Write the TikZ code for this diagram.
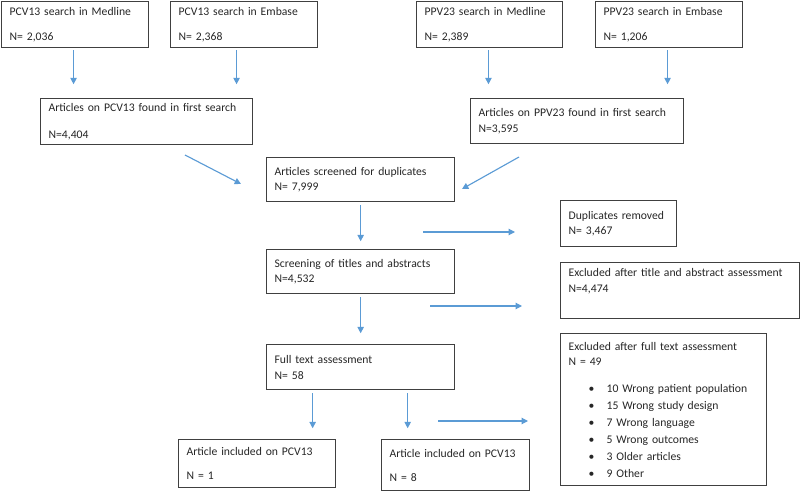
\documentclass[tikz,border=0pt]{standalone}
\usepackage{fontspec}
\setmainfont{Carlito}
\usetikzlibrary{arrows.meta}
\definecolor{arrblue}{RGB}{91,155,213}
\definecolor{edge}{RGB}{64,64,64}

\begin{document}
\begin{tikzpicture}[x=0.025cm,y=-0.025cm,font=\fontsize{8.3}{11.2}\selectfont,text=black!85,box/.style 2 args={draw=edge, line width=0.9pt, anchor=north west, align=left, minimum width=#1cm, minimum height=#2cm, text width=#1cm-0.4cm},arr/.style={draw=arrblue, line width=0.8pt, -{Triangle[length=4.5pt,width=4.5pt]}}]
\useasboundingbox (0,0) rectangle (800,491);
\node[box={3.675}{1.15}] (medA) at (1,1) {PCV13 search in Medline\\[6pt]N= 2,036};\node[box={3.675}{1.15}] (embA) at (170,1) {PCV13 search in Embase\\[6pt]N= 2,368};
\node[box={3.65}{1.15}] (medB) at (416,1) {PPV23 search in Medline\\[6pt]N= 2,389};\node[box={3.675}{1.15}] (embB) at (595,1) {PPV23 search in Embase\\[6pt]N= 1,206};
\node[box={5.3}{1.125}] (pcv) at (40,98) {Articles on PCV13 found in first search\\[8pt]N=4,404};\node[box={5.325}{1.125}] (ppv) at (470,98) {Articles on PPV23 found in first search\\N=3,595};
\node[box={4.7}{1.1}] (dup) at (266,157) {Articles screened for duplicates\\N= 7,999};\node[box={2.9}{1.15}] (dupout) at (560,200) {Duplicates removed\\N= 3,467};
\node[box={4.7}{1.1}] (screen) at (266,249) {Screening of titles and abstracts\\N=4,532};\node[box={5.975}{1.4}] (exclTA) at (560,262) {Excluded after title and abstract assessment\\N=4,474\\ \strut};
\node[box={4.7}{1.125}] (full) at (266,344) {Full text assessment\\N= 58};
\node[box={5.15}{3.8}] (exclFT) at (560,333) {Excluded after full text assessment\\N = 49\\[8pt]
\hspace*{0.5cm}\makebox[0.45cm][l]{\textbullet}10 Wrong patient population\\[0.8pt]
\hspace*{0.5cm}\makebox[0.45cm][l]{\textbullet}15 Wrong study design\\[0.8pt]
\hspace*{0.5cm}\makebox[0.45cm][l]{\textbullet}7 Wrong language\\[0.8pt]
\hspace*{0.5cm}\makebox[0.45cm][l]{\textbullet}5 Wrong outcomes\\[0.8pt]
\hspace*{0.5cm}\makebox[0.45cm][l]{\textbullet}3 Older articles\\[0.8pt]
\hspace*{0.5cm}\makebox[0.45cm][l]{\textbullet}9 Other};
\node[box={3.925}{1.2}] (incA) at (178,439) {Article included on PCV13\\[6pt]N = 1};\node[box={3.7}{1.275}] (incB) at (381,439) {Article included on PCV13\\[6pt]N = 8};
% free arrows between the boxes
\coordinate (pcvout) at (185,155);\coordinate (dupinL) at (241,184);
\coordinate (ppvout) at (519,157);\coordinate (dupinR) at (462,189);
\coordinate (dupfrom) at (423,232);\coordinate (dupto) at (515,232);
\coordinate (scrfrom) at (430,306);\coordinate (scrto) at (522,306);
\coordinate (fulfrom) at (438,421);\coordinate (fulto) at (528,421);
\draw[arr] ([xshift=-0.04cm,yshift=-0.05cm]medA.south) -- ++(0,34);
\draw[arr] ([xshift=-0.19cm,yshift=-0.05cm]embA.south) -- ++(0,34);
\draw[arr] ([xshift=-0.03cm,yshift=-0.05cm]medB.south) -- ++(0,34);
\draw[arr] ([xshift=-0.04cm,yshift=-0.05cm]embB.south) -- ++(0,34);
\draw[arr] (pcvout) -- (dupinL);\draw[arr] (ppvout) -- (dupinR);
\draw[arr] ([yshift=-0.075cm]dup.south) -- ++(0,36);\draw[arr] ([yshift=-0.075cm]screen.south) -- ++(0,36);
\draw[arr] ([xshift=-1.2cm,yshift=-0.075cm]full.south) -- ++(0,35);\draw[arr] ([xshift=1.175cm,yshift=-0.075cm]full.south) -- ++(0,35);
\draw[arr] (dupfrom) -- (dupto);\draw[arr] (scrfrom) -- (scrto);\draw[arr] (fulfrom) -- (fulto);
\end{tikzpicture}
\end{document}
